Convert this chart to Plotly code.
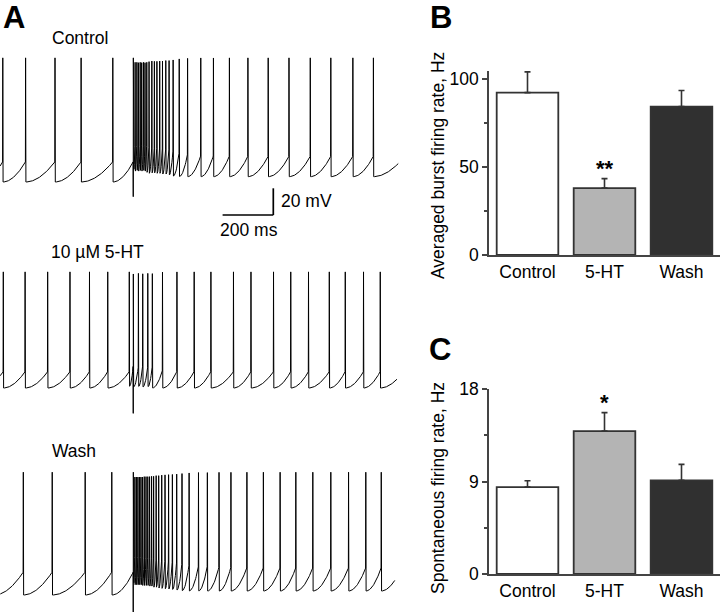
import numpy as np
import plotly.graph_objects as go

W, H = 720, 612

# ---------------- Panel A data: spike times (ms) ----------------
stim_ms = 526
control_spikes_ms = [11, 101, 217, 320, 445, 526, 533, 540, 546, 553, 559, 566, 572, 579, 588,
                     599, 609, 619, 630, 641, 654, 667, 683, 707, 740, 792, 842, 905, 978, 1058,
                     1140, 1224, 1305, 1392, 1473]
serotonin_spikes_ms = [13, 99, 188, 276, 353, 425, 510, 526, 546, 563, 583, 601, 641, 698, 766,
                       832, 921, 990, 1079, 1147, 1217, 1299, 1362, 1434, 1500]
wash_spikes_ms = [92, 206, 336, 441, 526, 532, 538, 544, 550, 556, 562, 569, 576, 583, 590, 598,
                  606, 616, 626, 638, 651, 665, 680, 697, 718, 746, 783, 818, 864, 911, 974, 1039,
                  1105, 1167, 1234, 1305, 1375, 1443, 1504]
trace_names = ["Control", "10 µM 5-HT", "Wash"]
trace_end_ms = [1571, 1566, 1559]
trough_mV = [-65, -65, -65]
threshold_mV = [-50, -53, -48]
peak_mV = [28, 22, 27]
stim_artifact_mV = [-76, -84, -84]
post_stim_shift_mV = [4, 0, 3]
scale_bar_ms = 200
scale_bar_mV = 20

# ---------------- Panels B and C data ----------------
conditions = ["Control", "5-HT", "Wash"]
burst_rate_hz = [92.2, 38.0, 84.3]
burst_rate_sem = [11.8, 5.4, 9.1]
spont_rate_hz = [8.46, 13.9, 9.11]
spont_rate_sem = [0.62, 1.8, 1.56]
bar_colors = ["#ffffff", "#b4b4b4", "#303030"]

FONT = "Arial, Liberation Sans, sans-serif"


def px(x):
    return x / W


def py(y):
    return 1 - y / H


def build_trace(spikes, t_end, trough, thr, peak, art, shift):
    ts, vs = [], []

    def ramp(ta, tb, d, keep):
        off = shift if ta >= stim_ms else 0.0
        v_tr = trough + off + 10 * np.exp(-d / 8)
        v_th = thr + off + 12 * np.exp(-d / 15)
        n = max(5, int(d / 2))
        s = np.linspace(0, 1, n)
        tt = np.linspace(ta + 1.2, tb - 0.8, n)
        vv = v_tr + (v_th - v_tr) * s ** 1.9
        for a, b in zip(tt, vv):
            if keep(a):
                ts.append(a)
                vs.append(b)

    first_isi = max(spikes[1] - spikes[0], 90)
    ramp(spikes[0] - first_isi, spikes[0], first_isi, lambda a: a >= 0)
    prev_d = first_isi
    for i, ti in enumerate(spikes):
        if ti == stim_ms:
            ts.append(ti - 0.4)
            vs.append(art)
        ts.append(ti)
        vs.append(peak - 6 * np.exp(-prev_d / 12))
        if i + 1 < len(spikes):
            d = spikes[i + 1] - ti
            ramp(ti, spikes[i + 1], d, lambda a: True)
            prev_d = d
        else:
            d = t_end + 25 - ti
            ramp(ti, t_end + 25, d, lambda a: a <= t_end)
    return ts, vs


fig = go.Figure()

# Panel A geometry (pixels)
px_per_ms = 50.7 / 200.0
px_per_mV = 26.7 / 20.0
trough_px = [182, 388, 595]
x_range_ms = [0, 400 / px_per_ms]
all_spikes = [control_spikes_ms, serotonin_spikes_ms, wash_spikes_ms]

layout_axes = {}
for k in range(3):
    ts, vs = build_trace(all_spikes[k], trace_end_ms[k], trough_mV[k], threshold_mV[k],
                         peak_mV[k], stim_artifact_mV[k], post_stim_shift_mV[k])
    xa = "x" if k == 0 else f"x{k + 1}"
    ya = "y" if k == 0 else f"y{k + 1}"
    fig.add_trace(go.Scatter(x=ts, y=vs, mode="lines", line=dict(color="black", width=1),
                             xaxis=xa, yaxis=ya, showlegend=False, hoverinfo="skip"))
    top = trough_px[k] - 150
    bot = min(trough_px[k] + 40, H)
    yr = [trough_mV[k] - (bot - trough_px[k]) / px_per_mV, trough_mV[k] + (trough_px[k] - top) / px_per_mV]
    xkey = "xaxis" if k == 0 else f"xaxis{k + 1}"
    ykey = "yaxis" if k == 0 else f"yaxis{k + 1}"
    layout_axes[xkey] = dict(domain=[0, px(400)], range=x_range_ms, visible=False, anchor=ya,
                             automargin=False, fixedrange=True)
    layout_axes[ykey] = dict(domain=[py(bot), py(top)], range=yr, visible=False, anchor=xa,
                             automargin=False, fixedrange=True)

# Panel B and C bars
bar_axes = [("x4", "y4", burst_rate_hz, burst_rate_sem), ("x5", "y5", spont_rate_hz, spont_rate_sem)]
for xa, ya, vals, sem in bar_axes:
    fig.add_trace(go.Bar(
        x=conditions, y=vals, width=0.8, xaxis=xa, yaxis=ya, showlegend=False,
        marker=dict(color=bar_colors, line=dict(color="#333333", width=1.8)),
        error_y=dict(type="data", symmetric=False, array=sem, arrayminus=[0, 0, 0],
                     color="#333333", thickness=1.6, width=3),
        hoverinfo="skip"))

axis_common = dict(showline=True, linecolor="#444444", linewidth=1.6, showgrid=False, zeroline=False,
                   automargin=False, fixedrange=True,
                   tickfont=dict(family=FONT, size=17.5, color="black"))
layout_axes["xaxis4"] = dict(axis_common, domain=[px(489), 1], range=[-0.5, 2.5], anchor="y4", ticks="")
layout_axes["yaxis4"] = dict(axis_common, domain=[py(255), py(71)], range=[0, 104.5], anchor="x4",
                             tickmode="linear", tick0=0, dtick=50, ticks="outside", ticklen=5,
                             tickwidth=1.5, tickcolor="#444444",
                             minor=dict(dtick=25, tick0=0, ticks="outside", ticklen=3, tickcolor="#444444"))
layout_axes["xaxis5"] = dict(axis_common, domain=[px(489), 1], range=[-0.5, 2.5], anchor="y5", ticks="")
layout_axes["yaxis5"] = dict(axis_common, domain=[py(574), py(389)], range=[0, 18], anchor="x5",
                             tickmode="linear", tick0=0, dtick=9, ticks="outside", ticklen=5,
                             tickwidth=1.5, tickcolor="#444444",
                             minor=dict(dtick=4.5, tick0=0, ticks="outside", ticklen=3, tickcolor="#444444"))

# scale bar on the control trace axes
bar_t_end = 273.3 / px_per_ms
bar_v = trough_mV[0] - (215 - trough_px[0]) / px_per_mV
shapes = [
    dict(type="line", xref="x", yref="y", x0=bar_t_end - scale_bar_ms, x1=bar_t_end, y0=bar_v, y1=bar_v,
         line=dict(color="black", width=1.7)),
    dict(type="line", xref="x", yref="y", x0=bar_t_end, x1=bar_t_end, y0=bar_v, y1=bar_v + scale_bar_mV,
         line=dict(color="black", width=1.7)),
]


def ann(text, x, y, size=17.5, xanchor="left", bold=False, angle=0):
    return dict(text=f"<b>{text}</b>" if bold else text, x=px(x), y=py(y), xref="paper", yref="paper",
                xanchor=xanchor, yanchor="middle", showarrow=False, textangle=angle,
                font=dict(family=FONT, size=size, color="black"))


annotations = [
    ann("A", 1, 17, size=31, bold=True),
    ann("B", 428, 17, size=31, bold=True),
    ann("C", 427, 349, size=31, bold=True),
    ann(trace_names[0], 50, 38),
    ann(trace_names[1], 49, 252),
    ann(trace_names[2], 50, 451),
    ann(f"{scale_bar_mV} mV", 279, 201),
    ann(f"{scale_bar_ms} ms", 249, 230, xanchor="center"),
    ann("Averaged burst firing rate, Hz", 438, 165, xanchor="center", angle=-90),
    ann("Spontaneous firing rate, Hz", 438, 488, xanchor="center", angle=-90),
    dict(text="<b>**</b>", x="5-HT", y=burst_rate_hz[1] + burst_rate_sem[1], xref="x4", yref="y4",
         yanchor="bottom", xanchor="center", showarrow=False, yshift=-4,
         font=dict(family=FONT, size=22, color="black")),
    dict(text="<b>*</b>", x="5-HT", y=spont_rate_hz[1] + spont_rate_sem[1], xref="x5", yref="y5",
         yanchor="bottom", xanchor="center", showarrow=False, yshift=-4,
         font=dict(family=FONT, size=22, color="black")),
]

fig.update_layout(
    template="none",
    width=W, height=H, margin=dict(l=0, r=0, t=0, b=0, pad=0, autoexpand=False),
    paper_bgcolor="white", plot_bgcolor="rgba(0,0,0,0)",
    shapes=shapes, annotations=annotations, bargap=0.2,
    **layout_axes,
)

fig.write_html("out.html", config={"displayModeBar": False},
               post_script="document.body.style.margin='0px';document.body.style.padding='0px';")
